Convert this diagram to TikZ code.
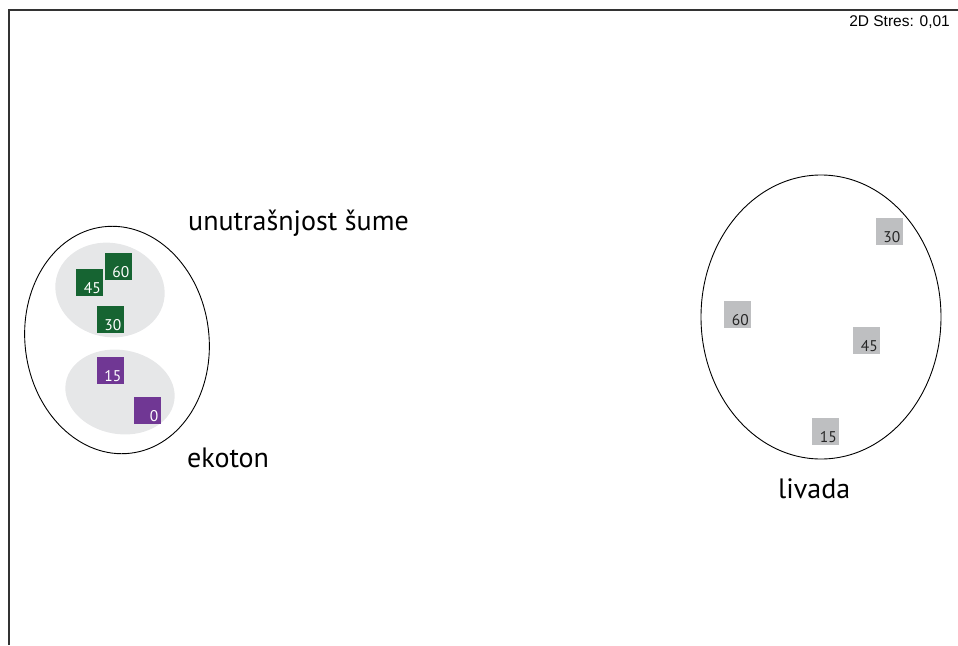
\documentclass[tikz,border=0pt]{standalone}
\usepackage{fontspec}
\setmainfont{PT Sans}
\newfontfamily\stresfont{Liberation Sans}
\definecolor{sumagreen}{RGB}{22,100,50}
\definecolor{ekopurple}{RGB}{112,55,148}
\definecolor{livgrey}{RGB}{190,191,193}
\definecolor{grpgrey}{RGB}{230,231,232}
\begin{document}
\begin{tikzpicture}[x=1pt,y=-1pt,
    uzorak/.style={minimum size=27pt, inner sep=0pt, outer sep=0pt},
    broj/.style={font=\fontsize{15.5}{15.5}\selectfont, inner sep=2pt, anchor=south east},
    natpis/.style={font=\fontsize{28}{28}\selectfont, inner sep=0pt, anchor=base west}]
\useasboundingbox (0,0) rectangle (958,645);
\draw[line width=2pt, black!80](9,645)--(9,9.5)--(958,9.5);
\node[anchor=base east, inner sep=0pt] (stres) at (950,27) {\stresfont\fontsize{15.5}{15.5}\selectfont 2D Stres: 0,01};

% grupe
\fill[grpgrey, rotate around={-12:(110,290)}] (110,290) ellipse (55 and 47);
\fill[grpgrey, rotate around={-10:(120,392)}] (120,392) ellipse (55 and 42);
\draw[line width=0.9pt, rotate around={7:(117,340)}] (117,340) ellipse (92 and 114);
\draw[line width=0.9pt] (821,317) ellipse (120 and 142);

% uzorci
\foreach \ime/\x/\y/\br in {s60/118/266/60, s45/89.5/282/45, s30/110/319/30}
{
    \node[uzorak, fill=sumagreen] (\ime) at (\x,\y) {};
    \node[broj, text=white] (b\ime) at (\ime.south east) {\br};
}
\foreach \ime/\x/\y/\br in {e15/110/370/15, e0/147/410/0}
{
    \node[uzorak, fill=ekopurple] (\ime) at (\x,\y) {};
    \node[broj, text=white] (b\ime) at (\ime.south east) {\br};
}
\foreach \ime/\x/\y/\br in {l30/889/231/30, l60/737.5/314/60, l45/866.5/340/45, l15/825.5/431/15}
{
    \node[uzorak, fill=livgrey] (\ime) at (\x,\y) {};
    \node[broj, text=black!85] (b\ime) at (\ime.south east) {\br};
}

\node[natpis] (suma) at (188,230) {unutrašnjost šume};
\node[natpis] (ekoton) at (187,467) {ekoton};
\node[natpis] (livada) at (778,498) {livada};
\end{tikzpicture}
\end{document}
